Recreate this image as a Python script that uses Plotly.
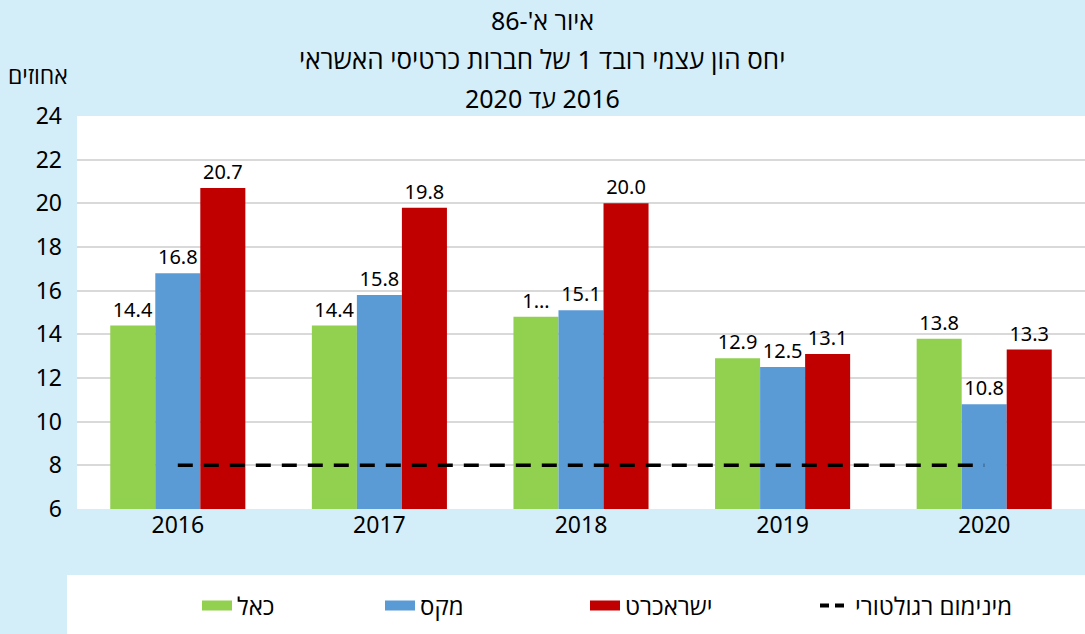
import plotly.graph_objects as go

years = ["2016", "2017", "2018", "2019", "2020"]
cal = [14.4, 14.4, 14.8, 12.9, 13.8]
max_ = [16.8, 15.8, 15.1, 12.5, 10.8]
isracard = [20.7, 19.8, 20.0, 13.1, 13.3]
reg_min = [8, 8, 8, 8, 8]
cal_labels = ["14.4", "14.4", "1…", "12.9", "13.8"]

RLM = "\u200f"
BG = "#d4eef9"
FONT = "Noto Sans, Open Sans, Liberation Sans"

GREEN, BLUE, RED = "#92d050", "#5b9bd5", "#c00000"

fig = go.Figure()

def bar(name, vals, color, labels=None):
    fig.add_trace(go.Bar(
        x=years, y=vals, name=RLM + name, showlegend=False,
        marker=dict(color=color, line=dict(width=0)),
        text=labels if labels is not None else [f"{v:.1f}" for v in vals],
        textposition="outside", constraintext="none", cliponaxis=False,
        textfont=dict(size=20, color="#000000", family=FONT),
        hoverinfo="skip",
    ))

bar("כאל", cal, GREEN, cal_labels)
bar("מקס", max_, BLUE)
bar("ישראכרט", isracard, RED)

fig.add_trace(go.Scatter(
    x=years, y=reg_min, mode="lines", name=RLM + "מינימום רגולטורי", showlegend=False,
    line=dict(color="#000000", width=3.5, dash="15px,11px"),
    hoverinfo="skip",
))

L, R, T, B = 77, 0, 116, 125
W, H = 1085, 634
pw = W - L - R
ph = H - T - B

def px(x):
    return (x - L) / pw

def py(y):
    return (H - B - y) / ph

# legend entries (swatches only, no data drawn), each in its own legend box
legend_items = [
    ("כאל", dict(color=GREEN, width=18), 197),
    ("מקס", dict(color=BLUE, width=18), 380),
    ("ישראכרט", dict(color=RED, width=18), 585),
    ("מינימום רגולטורי", dict(color="#000000", width=4, dash="9px,6px"), 815),
]
legend_layout = {}
for i, (name, line, xpos) in enumerate(legend_items):
    key = "legend" if i == 0 else f"legend{i + 1}"
    fig.add_trace(go.Scatter(x=[None], y=[None], mode="lines", name=RLM + name,
                             line=line, hoverinfo="skip", legend=key))
    legend_layout[key] = dict(
        orientation="h", x=px(xpos), y=py(606), xanchor="left", yanchor="middle",
        bgcolor="rgba(0,0,0,0)", font=dict(size=24, family=FONT, color="#000000"),
    )

annotations = []
for text, yy, fs in [("איור א'-86", 20, 25), ("יחס הון עצמי רובד 1 של חברות כרטיסי האשראי", 59, 26), ("2016 עד 2020", 98, 25)]:
    annotations.append(dict(
        text=RLM + text, x=px(542), y=py(yy), xref="paper", yref="paper",
        xanchor="center", yanchor="middle", showarrow=False,
        font=dict(size=fs, color="#000000", family=FONT),
    ))
annotations.append(dict(
    text=RLM + "אחוזים", x=px(38), y=py(75), xref="paper", yref="paper",
    xanchor="center", yanchor="middle", showarrow=False,
    font=dict(size=23, color="#000000", family=FONT),
))

fig.update_layout(
    width=W, height=H,
    margin=dict(l=L, r=R, t=T, b=B, pad=0),
    paper_bgcolor=BG, plot_bgcolor="#ffffff",
    barmode="group", bargap=0.33, bargroupgap=0,
    font=dict(family=FONT, size=22, color="#000000"),
    annotations=annotations,
    shapes=[dict(type="rect", xref="paper", yref="paper",
                 x0=px(67), x1=px(1090), y0=py(640), y1=py(575),
                 fillcolor="#ffffff", line=dict(width=0), layer="below")],
    xaxis=dict(type="category", showgrid=False, showline=False, ticks="",
               tickfont=dict(size=23, color="#000000")),
    yaxis=dict(range=[6, 24], dtick=2, showgrid=True, gridcolor="#d9d9d9", gridwidth=1.5,
               zeroline=False, showline=False, ticks="", ticklabelstandoff=14,
               tickfont=dict(size=23, color="#000000")),
    **legend_layout,
)

fig.write_html("out.html", config={"displayModeBar": False},
               post_script="document.body.style.margin='0';")
